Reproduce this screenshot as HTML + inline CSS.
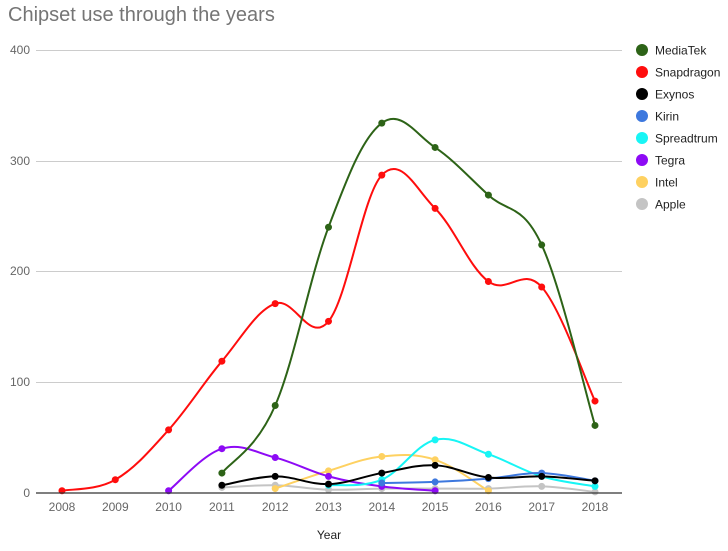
<!DOCTYPE html>
<html><head><meta charset="utf-8"><style>
body{margin:0;background:#fff;font-family:"Liberation Sans",sans-serif}
svg text{font-family:"Liberation Sans",sans-serif}
</style></head><body>
<svg id="c" width="728" height="546" xmlns="http://www.w3.org/2000/svg">
<rect width="728" height="546" fill="#fff"/>
<text x="8" y="21" font-size="20" fill="#757575">Chipset use through the years</text>
<g stroke="#ccc" stroke-width="1">
<line x1="36" x2="622" y1="50.5" y2="50.5"/><line x1="36" x2="622" y1="161.5" y2="161.5"/>
<line x1="36" x2="622" y1="271.5" y2="271.5"/><line x1="36" x2="622" y1="382.5" y2="382.5"/>
</g>
<g font-size="12" fill="#666" text-anchor="end">
<text x="30" y="54">400</text><text x="30" y="165">300</text><text x="30" y="275">200</text><text x="30" y="386">100</text><text x="30" y="497">0</text>
</g>
<g id="xl" font-size="12" fill="#666" text-anchor="middle"></g>
<text x="329" y="539" font-size="12" fill="#222" text-anchor="middle">Year</text>
<g id="series"></g>
<line x1="36" x2="622" y1="493" y2="493" stroke="#333" stroke-width="1.2"/>
<g id="leg" font-size="12" fill="#222"></g>
</svg>
<script>
var X=function(i){return 62+i*53.3},Y=function(v){return 493-v*1.1075};
var S=[
["MediaTek","#2d6317",3,[18,79,240,334,312,269,224,61]],
["Snapdragon","#ff0d0d",0,[2,12,57,119,171,155,287,257,191,186,83]],
["Exynos","#000000",3,[7,15,8,18,25,14,15,11]],
["Kirin","#3d78de",6,[9,10,13,18,11]],
["Spreadtrum","#18f5f5",5,[7,12,48,35,15,6]],
["Tegra","#8d0af5",2,[2,40,32,15,6,2]],
["Intel","#fed161",4,[4,20,33,30,2]],
["Apple","#c4c4c4",3,[5,7,3,4,4,4,6,1]]];
var ns="http://www.w3.org/2000/svg",g=document.getElementById("series");
function el(t,a,p){var e=document.createElementNS(ns,t);for(var k in a)e.setAttribute(k,a[k]);p.appendChild(e);return e}
var xl=document.getElementById("xl");
for(var i=0;i<11;i++){var t=el("text",{x:X(i),y:511},xl);t.textContent=2008+i;}
for(var s=S.length-1;s>=0;s--){
 var d=S[s],p=d[3].map(function(v,j){return[X(d[2]+j),Y(v)]});
 var path="M"+p[0][0]+","+p[0][1];
 for(var j=0;j<p.length-1;j++){
  var p0=p[j-1]||p[j],p1=p[j],p2=p[j+1],p3=p[j+2]||p2,k=0.18;
  path+=" C"+(p1[0]+(p2[0]-p0[0])*k)+","+(p1[1]+(p2[1]-p0[1])*k)+" "+(p2[0]-(p3[0]-p1[0])*k)+","+(p2[1]-(p3[1]-p1[1])*k)+" "+p2[0]+","+p2[1];
 }
 el("path",{d:path,fill:"none",stroke:d[1],"stroke-width":2},g);
 p.forEach(function(q){el("circle",{cx:q[0],cy:q[1],r:3.5,fill:d[1]},g)});
}
var lg=document.getElementById("leg");
S.forEach(function(d,i){var y=50+i*22;el("circle",{cx:642,cy:y,r:6,fill:d[1]},lg);var t=el("text",{x:655,y:y+4.5},lg);t.textContent=d[0];});
</script>
</body></html>
